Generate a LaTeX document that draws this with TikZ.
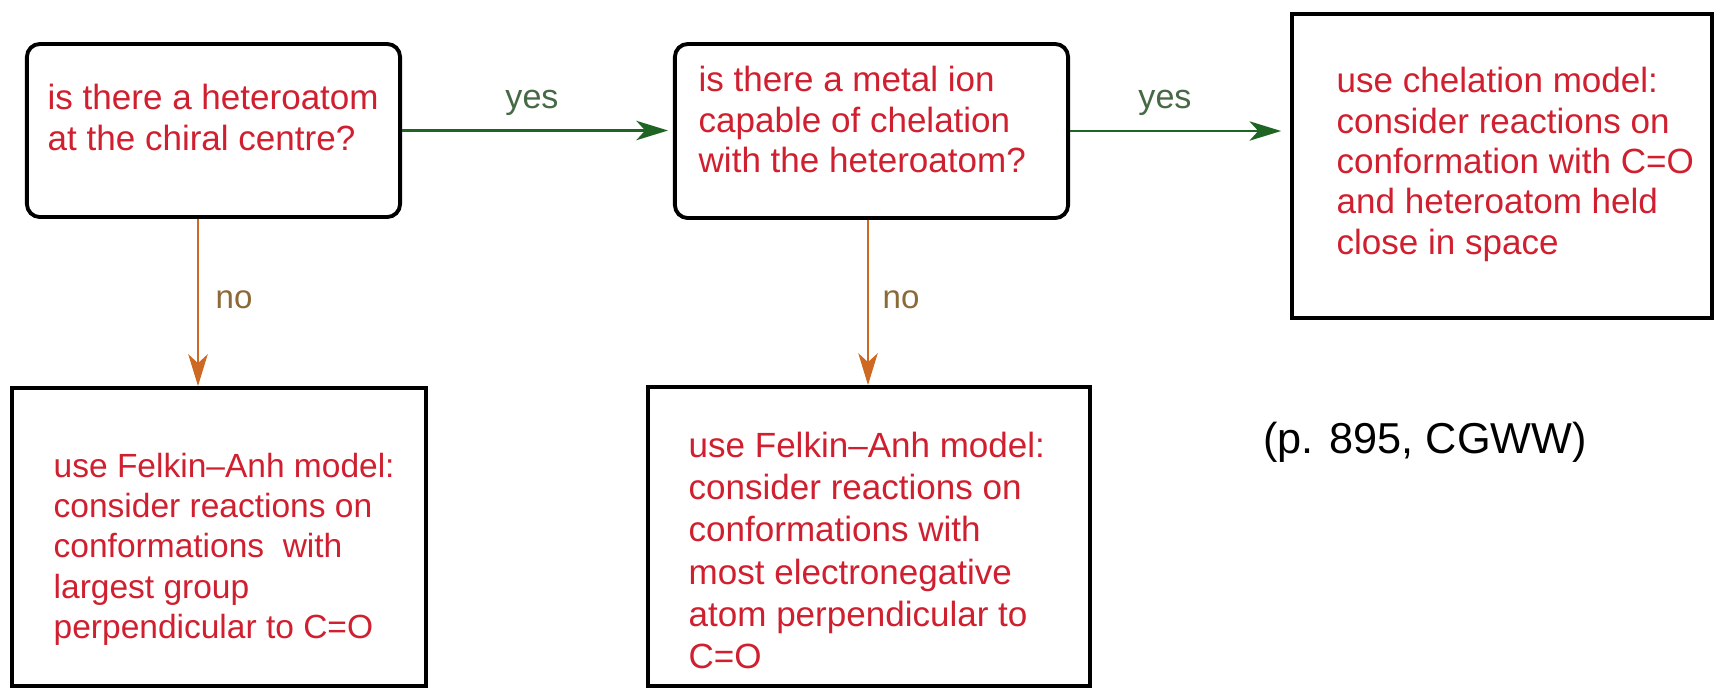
\documentclass[tikz,border=0pt]{standalone}
\usepackage{fontspec}
\setmainfont{Liberation Sans}
\usetikzlibrary{arrows.meta}
\definecolor{txtred}{RGB}{208,32,48}
\definecolor{yesgreen}{RGB}{30,100,35}
\definecolor{yeslbl}{RGB}{70,105,70}
\definecolor{noorange}{RGB}{205,105,35}
\definecolor{nolbl}{RGB}{140,105,55}
\begin{document}
\begin{tikzpicture}[x=0.01cm, y=-0.01cm,
  qbox/.style={draw=black, line width=1.1pt, rounded corners=3.7pt, inner sep=0pt},
  abox/.style={draw=black, line width=1.1pt, inner sep=0pt},
  txt/.style={anchor=north west, inner sep=0pt, align=left, text=txtred, font=\fontsize{9.96}{11.5}\selectfont},
  tip/.style={-{Stealth[length=9pt,width=5.5pt,inset=2.5pt]}},
  yesarrow/.style={draw=yesgreen, line width=0.7pt, tip},
  noarrow/.style={draw=noorange, line width=0.7pt, tip},
  yeslabel/.style={text=yeslbl, font=\fontsize{9.7}{11}\selectfont, inner sep=0pt},
  nolabel/.style={text=nolbl, font=\fontsize{9.4}{11}\selectfont, inner sep=0pt, anchor=west},
]
\useasboundingbox (0,0) rectangle (1720,690);
\fill[white] (0,0) rectangle (1720,690);
\clip (0,0) rectangle (1720,690);

\node[qbox, minimum width=3.73cm, minimum height=1.73cm] (b1) at (213.5,130.5) {};
\node[qbox, minimum width=3.93cm, minimum height=1.74cm] (b2) at (871.5,131) {};
\node[abox, minimum width=4.20cm, minimum height=3.04cm] (b3) at (1502,166) {};
\node[abox, minimum width=4.14cm, minimum height=2.98cm] (b4) at (219,537) {};
\node[abox, minimum width=4.42cm, minimum height=2.99cm] (b5) at (869,536.5) {};

\node[txt] (t1) at (47,83.5) {is there a heteroatom\\at the chiral centre?};
\node[txt] (t2) at (698,65.5) {is there a metal ion\\capable of chelation\\with the heteroatom?};
\node[txt] (t3) at (1336,66.5) {use chelation model:\\consider reactions on\\conformation with C=O\\and heteroatom held\\close in space};
\node[txt, font=\fontsize{9.53}{11.5}\selectfont] (t4) at (53,452) {use Felkin–Anh model:\\consider reactions on\\conformations\ \ with\\largest group\\perpendicular to C=O};
\node[txt, font=\fontsize{9.96}{12}\selectfont] (t5) at (688,431.5) {use Felkin–Anh model:\\consider reactions on\\conformations with\\most electronegative\\atom perpendicular to\\C=O};

\draw[yesarrow, shorten >=1.4pt] (b1.east) -- (b1.east -| b2.west);
\node[yeslabel] (y1) at (532,103) {yes};
\draw[yesarrow, shorten >=2.5pt] (b2.east) -- (b2.east -| b3.west);
\node[yeslabel] (y2) at (1165,103) {yes};

\coordinate (c1) at (198,0);
\coordinate (c2) at (868,0);
\draw[noarrow] (b1.south -| c1) -- (b4.north -| c1);
\draw[noarrow] (b2.south -| c2) -- (b5.north -| c2);
\node[nolabel] (n1) at (215,300) {no};
\node[nolabel] (n2) at (882,300) {no};

\node[font=\fontsize{12.3}{14}\selectfont, inner sep=0pt] (ref) at (1425,442) {(p. 895, CGWW)};
\end{tikzpicture}
\end{document}
